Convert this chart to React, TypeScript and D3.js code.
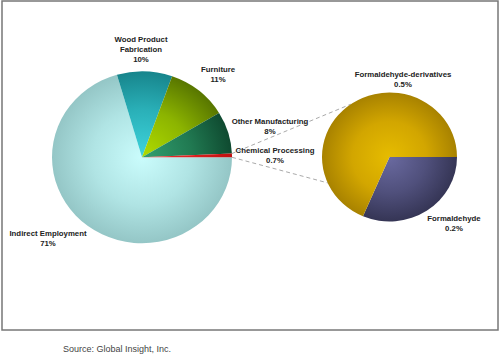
import React from "react";
import * as d3 from "d3";

// ---- data ----
const mainCategories = ["Indirect Employment", "Wood Product Fabrication", "Furniture", "Other Manufacturing", "Chemical Processing"];
const mainValues = [71, 10, 11, 8, 0.7];
const subCategories = ["Formaldehyde", "Formaldehyde-derivatives"];
const subValues = [0.22, 0.48];
const sourceText = "Source: Global Insight, Inc.";

// ---- styles ----
const mainColors: [string, string, string][] = [
  ["#cafcfc", "#b0e4e4", "#94c6c6"],
  ["#3ed4dc", "#2ab0b8", "#17858c"],
  ["#b0dc00", "#8cb400", "#587600"],
  ["#32a070", "#217a52", "#0f4a30"],
  ["#f03030", "#e02020", "#c01010"],
];
const subColors: [string, string, string][] = [
  ["#6a6aa0", "#50507c", "#353555"],
  ["#e6bc00", "#d2a600", "#a88200"],
];

// label layout (text positions, lines)
const mainLabelPos: [number, number][] = [
  [48, 236],
  [141, 42],
  [218, 72],
  [270, 124],
  [275, 153],
];
const subLabelPos: [number, number][] = [
  [454, 221],
  [403, 77],
];

const W = 500;
const H = 358;
const YS = 0.955; // vertical squish of the pies
const main = { cx: 142, cy: 157.3, r: 90 };
const sub = { cx: 389.5, cy: 157, r: 67.5 };

function fmt(v: number) {
  return v < 1 ? d3.format(".1f")(v) + "%" : d3.format(".0f")(v) + "%";
}

function polar(c: { cx: number; cy: number; r: number }, a: number) {
  // d3 angle: 0 at 12 o'clock, clockwise
  return [c.cx + c.r * Math.sin(a), c.cy - c.r * Math.cos(a) * YS];
}

export default function App() {
  const pieGen = d3
    .pie<number>()
    .sort(null)
    .value((d) => d)
    .startAngle(Math.PI / 2)
    .endAngle(Math.PI / 2 + 2 * Math.PI);
  const mainArcs = pieGen(mainValues);
  const subArcs = pieGen(subValues);
  const arcMain = d3.arc<d3.PieArcDatum<number>>().innerRadius(0).outerRadius(main.r);
  const arcSub = d3.arc<d3.PieArcDatum<number>>().innerRadius(0).outerRadius(sub.r);

  const chem = mainArcs[mainArcs.length - 1];
  const pUpperMain = polar(main, chem.startAngle);
  const pLowerMain = polar(main, chem.endAngle);
  const pUpperSub = polar(sub, Math.PI * 2 - (35 * Math.PI) / 180);
  const pLowerSub = polar(sub, Math.PI - (35 * Math.PI) / 180);

  const font = "'Liberation Sans', Arial, sans-serif";

  return (
    <svg width={W} height={H} style={{ position: "absolute", left: 0, top: 0, background: "#fff" }}>
      <defs>
        {mainColors.map((c, i) => (
          <radialGradient key={"m" + i} id={"gm" + i} gradientUnits="userSpaceOnUse" cx={0} cy={0} r={main.r}>
            <stop offset="0%" stopColor={c[0]} />
            <stop offset="55%" stopColor={c[1]} />
            <stop offset="100%" stopColor={c[2]} />
          </radialGradient>
        ))}
        {subColors.map((c, i) => (
          <radialGradient key={"s" + i} id={"gs" + i} gradientUnits="userSpaceOnUse" cx={0} cy={0} r={sub.r}>
            <stop offset="0%" stopColor={c[0]} />
            <stop offset="55%" stopColor={c[1]} />
            <stop offset="100%" stopColor={c[2]} />
          </radialGradient>
        ))}
      </defs>
      <rect x={2} y={1} width={496} height={329} fill="#fff" stroke="#777" strokeWidth={1.5} />

      <g stroke="#aaa" strokeWidth={1} strokeDasharray="4,3" fill="none">
        <line x1={pUpperMain[0]} y1={pUpperMain[1]} x2={pUpperSub[0]} y2={pUpperSub[1]} />
        <line x1={pLowerMain[0]} y1={pLowerMain[1]} x2={pLowerSub[0]} y2={pLowerSub[1]} />
      </g>

      <g transform={`translate(${main.cx},${main.cy}) scale(1,${YS})`}>
        {mainArcs.map((a, i) => (
          <path key={i} d={arcMain(a) || ""} fill={`url(#gm${i})`} />
        ))}
      </g>
      <g transform={`translate(${sub.cx},${sub.cy}) scale(1,${YS})`}>
        {subArcs.map((a, i) => (
          <path key={i} d={arcSub(a) || ""} fill={`url(#gs${i})`} />
        ))}
      </g>

      <g fontFamily={font} fontWeight="bold" fontSize={7.8} fill="#222" textAnchor="middle">
        {mainCategories.map((c, i) => {
          const [x, y] = mainLabelPos[i];
          const lines = c === "Wood Product Fabrication" ? ["Wood Product", "Fabrication"] : [c];
          return (
            <text key={i} x={x} y={y}>
              {lines.map((l, j) => (
                <tspan key={j} x={x} dy={j === 0 ? 0 : 10}>
                  {l}
                </tspan>
              ))}
              <tspan x={x} dy={10}>
                {fmt(mainValues[i])}
              </tspan>
            </text>
          );
        })}
        {subCategories.map((c, i) => {
          const [x, y] = subLabelPos[i];
          return (
            <text key={i} x={x} y={y}>
              <tspan x={x}>{c}</tspan>
              <tspan x={x} dy={10}>
                {fmt(subValues[i])}
              </tspan>
            </text>
          );
        })}
      </g>

      <text x={63} y={352} fontFamily={font} fontSize={9} fill="#444">
        {sourceText}
      </text>
    </svg>
  );
}
